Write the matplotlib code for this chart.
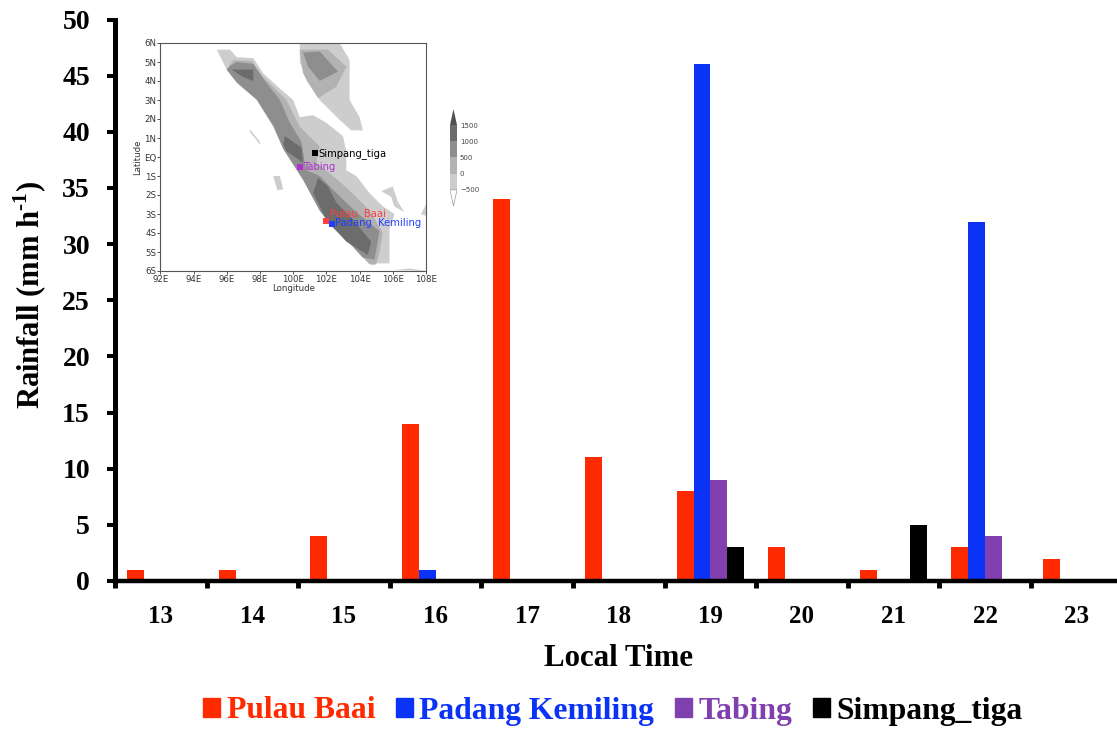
import matplotlib
matplotlib.use("Agg")
import matplotlib.pyplot as plt
from matplotlib.patches import Patch

plt.rcParams['font.family'] = ['Liberation Serif', 'DejaVu Serif']
plt.rcParams['font.weight'] = 'bold'
plt.rcParams['mathtext.fontset'] = 'custom'
plt.rcParams['mathtext.rm'] = 'Liberation Serif:bold'
plt.rcParams['mathtext.bf'] = 'Liberation Serif:bold'

hours = [13, 14, 15, 16, 17, 18, 19, 20, 21, 22, 23]
pulau_baai = [1, 1, 4, 14, 34, 11, 8, 3, 1, 3, 2]
padang_kemiling = [0, 0, 0, 1, 0, 0, 46, 0, 0, 32, 0]
tabing = [0, 0, 0, 0, 0, 0, 9, 0, 0, 4, 0]
simpang_tiga = [0, 0, 0, 0, 0, 0, 3, 0, 5, 0, 0]

series_names = ["Pulau Baai", "Padang Kemiling", "Tabing", "Simpang_tiga"]
series_colors = ["#ff2a00", "#0a33f5", "#8040b0", "#000000"]

y_ticks = [0, 5, 10, 15, 20, 25, 30, 35, 40, 45, 50]

# terrain shapes of the inset map, (lon, lat)
sumatra_1 = [(95.4, 5.65), (96.2, 5.65), (96.6, 5.26), (97.6, 5.2), (98.2, 4.4), (99.2, 3.6),
             (100.0, 3.0), (100.4, 2.1), (101.2, 2.2), (102.0, 1.8), (103.0, 1.1), (103.2, 0.3),
             (103.2, -0.7), (103.8, -1.0), (104.6, -1.9), (105.4, -2.6), (106.1, -3.0),
             (105.8, -3.8), (105.8, -5.6), (105.0, -5.6), (104.8, -5.7), (103.6, -4.7),
             (102.4, -3.7), (101.6, -2.8), (100.6, -1.2), (99.4, 0.4), (98.8, 1.6), (97.8, 3.0),
             (96.6, 3.9), (96.0, 4.6)]
sumatra_2 = [(96.0, 4.6), (96.4, 5.1), (97.5, 5.05), (98.2, 4.2), (99.6, 3.0), (100.4, 1.6),
             (101.6, 0.55), (101.4, -0.3), (102.4, -1.0), (103.2, -1.6), (104.6, -2.8),
             (105.4, -4.0), (105.2, -5.0), (105.0, -5.65), (104.6, -5.65), (103.6, -4.72),
             (102.4, -3.72), (101.6, -2.82), (100.62, -1.22), (99.42, 0.42), (98.82, 1.62),
             (97.82, 3.02), (96.62, 3.92)]
sumatra_3 = [(96.0, 4.6), (96.2, 4.8), (96.6, 5.0), (97.6, 4.9), (98.3, 4.0), (99.2, 3.0),
             (99.8, 1.8), (100.5, 0.8), (100.7, -0.3), (100.8, -0.7), (101.6, -1.0), (102.6, -1.9),
             (103.8, -2.9), (105.2, -3.9), (105.0, -4.9), (104.9, -5.4), (104.2, -5.3),
             (103.6, -4.72), (102.4, -3.72), (101.6, -2.82), (100.62, -1.22), (99.42, 0.42),
             (98.82, 1.62), (97.82, 3.02), (96.62, 3.92)]
peak_north = [(96.3, 4.6), (97.6, 4.6), (97.6, 4.0), (97.0, 4.2)]
peak_middle = [(99.5, 1.1), (100.5, 0.5), (100.6, -0.3), (99.6, 0.3), (99.4, 0.7)]
peak_south = [(101.5, -1.1), (102.1, -1.55), (102.6, -2.4), (103.6, -3.3), (104.7, -4.45),
              (104.5, -5.15), (103.2, -4.45), (102.0, -3.3), (101.2, -1.9)]
malaya_1 = [(100.4, 6.0), (102.8, 6.0), (103.4, 5.1), (103.4, 3.0), (104.0, 2.1), (104.2, 1.4),
            (103.5, 1.4), (102.8, 1.95), (101.6, 3.0), (100.8, 4.0), (100.4, 5.0)]
malaya_2 = [(100.4, 5.65), (102.1, 5.65), (103.2, 4.75), (102.6, 3.7), (101.5, 3.1), (100.6, 4.4)]
malaya_3 = [(100.6, 5.5), (101.6, 5.55), (102.7, 4.5), (101.6, 4.0), (100.9, 4.75)]
islet_a = [(97.4, 1.45), (98.0, 0.8), (98.0, 0.65), (97.7, 1.0), (97.4, 1.3)]
islet_b = [(98.8, -1.0), (99.2, -1.0), (99.4, -1.7), (99.05, -1.75)]
islet_c = [(105.3, -1.8), (106.0, -1.55), (106.3, -2.35), (106.7, -2.9), (106.1, -2.6), (105.9, -2.1)]
islet_d = [(107.7, -3.0), (108.0, -2.5), (108.0, -3.1)]
islet_e = [(106.05, -5.95), (107.05, -5.87), (108.0, -6.0)]

level_colors = {1: "#cdcdcd", 2: "#b2b2b2", 3: "#8e8e8e", 4: "#6c6c6c"}
map_shapes = [(sumatra_1, 1), (sumatra_2, 2), (sumatra_3, 3), (peak_north, 4), (peak_middle, 4),
              (peak_south, 4), (malaya_1, 1), (malaya_2, 2), (malaya_3, 3), (islet_a, 1),
              (islet_b, 1), (islet_c, 1), (islet_d, 1), (islet_e, 1)]

stations = ["Simpang_tiga", "Tabing", "Pulau  Baai", "Padang  Kemiling"]
station_lon = [101.3, 100.4, 102.0, 102.35]
station_lat = [0.2, -0.55, -3.35, -3.5]
station_colors = ["#000000", "#b030d0", "#ff4040", "#2040ff"]

lon_ticks = [92, 94, 96, 98, 100, 102, 104, 106, 108]
lat_ticks = [6, 5, 4, 3, 2, 1, 0, -1, -2, -3, -4, -5, -6]
lat_labels = ["6N", "5N", "4N", "3N", "2N", "1N", "EQ", "1S", "2S", "3S", "4S", "5S", "6S"]

bar_levels = [1500, 1000, 500, 0, -500]
bar_colors = ["#6c6c6c", "#8e8e8e", "#b2b2b2", "#cdcdcd"]

W, H = 1117, 729


def fig_rect(x0, y0, x1, y1):
    return [x0 / W, 1 - y1 / H, (x1 - x0) / W, (y1 - y0) / H]


fig = plt.figure(figsize=(W / 100, H / 100), dpi=100)
ax = fig.add_axes(fig_rect(115, 19.5, 1117, 581))

bar_width = 0.184
all_values = [pulau_baai, padang_kemiling, tabing, simpang_tiga]
for i in range(len(all_values)):
    x_pos = [j + 0.5 + (i - 1.5) * bar_width for j in range(len(hours))]
    ax.bar(x_pos, all_values[i], width=bar_width, color=series_colors[i], zorder=2)

ax.set_xlim(0, 1002 / 91.6)
ax.set_ylim(0, 50)
ax.set_yticks(y_ticks)
ax.set_xticks(range(len(hours)))
ax.set_xticks([j + 0.5 for j in range(len(hours))], minor=True)
ax.set_xticklabels([])
ax.set_xticklabels([str(h) for h in hours], minor=True, fontsize=18, fontweight="bold")
ax.tick_params(axis="x", which="minor", length=0, pad=17)
ax.tick_params(axis="x", which="major", length=5, width=3.5, direction="out")
ax.tick_params(axis="y", length=6, width=2.9, labelsize=20, pad=12)
for s in ["top", "right"]:
    ax.spines[s].set_visible(False)
ax.spines["left"].set_linewidth(3.6)
ax.spines["bottom"].set_linewidth(3.2)
ax.spines["left"].set_zorder(5)
ax.spines["bottom"].set_zorder(5)

fig.text(619 / W, 1 - 658 / H, "Local Time", fontsize=22.2, fontweight="bold", ha="center", va="center")
fig.text(30 / W, 1 - 295 / H, r"Rainfall (mm h$^{\text{-}1}$)", fontsize=22, fontweight="bold",
         rotation=90, ha="center", va="center")

handles = [Patch(color=c) for c in series_colors]
leg = fig.legend(handles, series_names, ncol=4, loc="center", bbox_to_anchor=(613 / W, 1 - 711 / H),
                 frameon=False, prop={"size": 22.8, "weight": "bold"}, handlelength=0.52,
                 handleheight=0.52, handletextpad=0.22, columnspacing=0.66, labelcolor=series_colors,
                 borderpad=0, borderaxespad=0)

# inset map
inset = fig.add_axes(fig_rect(160.3, 43, 426, 271), zorder=10)
for shape, level in map_shapes:
    inset.fill([p[0] for p in shape], [p[1] for p in shape], color=level_colors[level], lw=0)
for i in range(len(stations)):
    inset.plot(station_lon[i], station_lat[i], "s", ms=4.3, color=station_colors[i], mew=0, zorder=3)
    inset.text(station_lon[i] + 0.2, station_lat[i] + (0.37 if i == 2 else 0), stations[i],
               color=station_colors[i], fontsize=7.2, va="center", ha="left", family="DejaVu Sans",
               fontweight="normal", zorder=4)
inset.set_xlim(92, 108)
inset.set_ylim(-6, 6)
inset.set_xticks(lon_ticks)
inset.set_xticklabels([f"{v}E" for v in lon_ticks], fontsize=6.2, family="DejaVu Sans", fontweight="normal")
inset.set_yticks(lat_ticks)
inset.set_yticklabels(lat_labels, fontsize=6.2, family="DejaVu Sans", fontweight="normal")
inset.tick_params(length=2, width=0.6, pad=1, colors="#333333")
inset.set_xlabel("Longitude", fontsize=6.2, family="DejaVu Sans", fontweight="normal", labelpad=0, color="#333333")
inset.set_ylabel("Latitude", fontsize=6.2, family="DejaVu Sans", fontweight="normal", labelpad=1, color="#333333")
for s in inset.spines.values():
    s.set_linewidth(0.8)
    s.set_color("#555555")

# colour bar beside the map
cbar = fig.add_axes(fig_rect(450, 109, 457, 206), zorder=10)
cbar.set_xlim(0, 1)
cbar.set_ylim(-1000, 2000)
cbar.fill([0, 1, 0.5], [1500, 1500, 2000], color="#505050", lw=0)
for i in range(len(bar_colors)):
    cbar.fill([0, 1, 1, 0], [bar_levels[i + 1], bar_levels[i + 1], bar_levels[i], bar_levels[i]],
              color=bar_colors[i], lw=0)
cbar.fill([0, 1, 0.5], [-500, -500, -1000], facecolor="white", edgecolor="#999999", lw=0.5)
cbar.set_xticks([])
cbar.yaxis.tick_right()
cbar.set_yticks(bar_levels)
cbar.set_yticklabels([str(v).replace("-", "\u2212") for v in bar_levels], fontsize=5, family="DejaVu Sans",
                     fontweight="normal", color="#444444")
cbar.tick_params(length=0, pad=2)
for s in cbar.spines.values():
    s.set_visible(False)

fig.savefig("out.png", dpi=100)
